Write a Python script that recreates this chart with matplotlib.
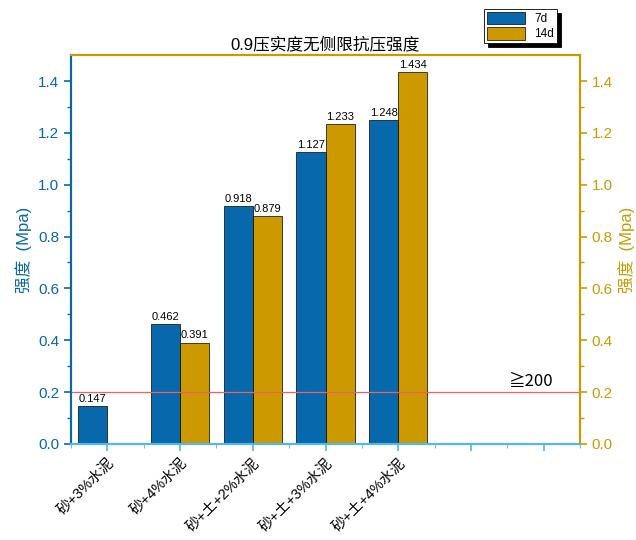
import matplotlib.pyplot as plt
import numpy as np

plt.rcParams['font.family'] = ['Liberation Sans', 'Noto Sans CJK SC', 'DejaVu Sans']

categories = ["砂+3%水泥", "砂+4%水泥", "砂+土+2%水泥", "砂+土+3%水泥", "砂+土+4%水泥"]
d7 = [0.147, 0.462, 0.918, 1.127, 1.248]
d14 = [None, 0.391, 0.879, 1.233, 1.434]

blue = "#0868AC"
gold = "#CC9900"
light_blue = "#4FB8F0"


def main():
    fig = plt.figure(figsize=(6.36, 5.4), dpi=100)
    ax = fig.add_axes([0.1116, 0.178, 0.8004, 0.72])
    x = np.arange(1, len(categories) + 1)
    w = 0.4

    for i, v in enumerate(d7):
        ax.bar(x[i] - w / 2, v, w, color=blue, edgecolor="black", linewidth=0.5, label="7d" if i == 0 else None)
        ax.text(x[i] - w / 2, v + 0.008, f"{v:.3f}", ha="center", va="bottom", fontsize=8)
    for i, v in enumerate(d14):
        if v is None:
            continue
        ax.bar(x[i] + w / 2, v, w, color=gold, edgecolor="black", linewidth=0.5, label="14d" if i == 1 else None)
        ax.text(x[i] + w / 2, v + 0.008, f"{v:.3f}", ha="center", va="bottom", fontsize=8)

    ax.axhline(0.2, color="#F06060", linewidth=0.9)
    ax.text(6.82, 0.208, "≧200", fontsize=12, ha="center", va="bottom",
            family=['Noto Sans CJK SC', 'Liberation Sans'])

    ax.set_xlim(0.5, 7.5)
    ax.set_ylim(0, 1.5)
    ax.set_xticks(np.arange(1, 8))
    ax.set_xticks(np.arange(0.5, 7.6, 1), minor=True)
    ax.set_xticklabels(categories + ["", ""], rotation=45, ha="right", rotation_mode="anchor", fontsize=10.5)
    ax.set_yticks(np.arange(0, 1.41, 0.2))
    ax.set_yticks(np.arange(0.1, 1.5, 0.2), minor=True)
    ax.yaxis.set_major_formatter(plt.FormatStrFormatter("%.1f"))
    ax.tick_params(axis="y", colors=blue, labelsize=11, width=1.2, length=5)
    ax.tick_params(axis="y", which="minor", colors=blue, width=1.0, length=3)
    ax.tick_params(axis="x", colors=light_blue, labelcolor="black", width=1.2, length=5)
    ax.tick_params(axis="x", which="minor", colors=light_blue, length=3)
    ax.set_ylabel("强度  (Mpa)", color=blue, fontsize=12)

    ax2 = ax.twinx()
    ax2.set_ylim(0, 1.5)
    ax2.set_yticks(np.arange(0, 1.41, 0.2))
    ax2.set_yticks(np.arange(0.1, 1.5, 0.2), minor=True)
    ax2.yaxis.set_major_formatter(plt.FormatStrFormatter("%.1f"))
    ax2.tick_params(axis="y", colors=gold, labelsize=11, width=1.2, length=5)
    ax2.tick_params(axis="y", which="minor", colors=gold, width=1.0, length=3)
    ax2.set_ylabel("强度  (Mpa)", color=gold, fontsize=12)

    for a in (ax, ax2):
        a.spines["left"].set_color(blue)
        a.spines["right"].set_color(gold)
        a.spines["top"].set_color(gold)
        a.spines["bottom"].set_color(light_blue)
        for s in a.spines.values():
            s.set_linewidth(1.5)

    ax.set_title("0.9压实度无侧限抗压强度", fontsize=12, pad=4)

    leg = fig.legend(loc="upper left", bbox_to_anchor=(0.752, 0.995), fontsize=8.5,
                     frameon=True, fancybox=False, edgecolor="black",
                     shadow={"color": "black", "alpha": 1.0, "ox": 3, "oy": -3},
                     handlelength=3.2, handleheight=1.3, borderpad=0.25, labelspacing=0.15,
                     handletextpad=0.8, framealpha=1.0)
    leg.get_frame().set_linewidth(0.6)

    fig.savefig("out.png", dpi=100)


if __name__ == "__main__":
    main()
